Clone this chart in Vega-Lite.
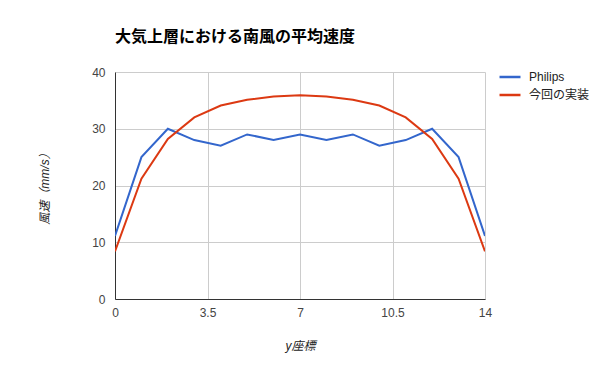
{
  "$schema": "https://vega.github.io/schema/vega-lite/v6.json",
  "autosize": "none",
  "width": 370,
  "height": 227,
  "padding": {"left": 115, "top": 72, "right": 115, "bottom": 72},
  "background": "white",
  "title": {
    "text": "大気上層における南風の平均速度",
    "anchor": "start",
    "frame": "group",
    "font": "Liberation Sans, Noto Sans CJK JP",
    "fontSize": 16,
    "fontWeight": "bold",
    "color": "#000000",
    "offset": 20
  },
  "data": {
    "values": [
      {"x": 0, "v": 11.1, "s": "Philips"},
      {"x": 1, "v": 25, "s": "Philips"},
      {"x": 2, "v": 30, "s": "Philips"},
      {"x": 3, "v": 28, "s": "Philips"},
      {"x": 4, "v": 27, "s": "Philips"},
      {"x": 5, "v": 29, "s": "Philips"},
      {"x": 6, "v": 28, "s": "Philips"},
      {"x": 7, "v": 29, "s": "Philips"},
      {"x": 8, "v": 28, "s": "Philips"},
      {"x": 9, "v": 29, "s": "Philips"},
      {"x": 10, "v": 27, "s": "Philips"},
      {"x": 11, "v": 28, "s": "Philips"},
      {"x": 12, "v": 30, "s": "Philips"},
      {"x": 13, "v": 25, "s": "Philips"},
      {"x": 14, "v": 11.1, "s": "Philips"},
      {"x": 0, "v": 8.4, "s": "今回の実装"},
      {"x": 1, "v": 21.2, "s": "今回の実装"},
      {"x": 2, "v": 28.2, "s": "今回の実装"},
      {"x": 3, "v": 32, "s": "今回の実装"},
      {"x": 4, "v": 34.1, "s": "今回の実装"},
      {"x": 5, "v": 35.1, "s": "今回の実装"},
      {"x": 6, "v": 35.7, "s": "今回の実装"},
      {"x": 7, "v": 35.9, "s": "今回の実装"},
      {"x": 8, "v": 35.7, "s": "今回の実装"},
      {"x": 9, "v": 35.1, "s": "今回の実装"},
      {"x": 10, "v": 34.1, "s": "今回の実装"},
      {"x": 11, "v": 32, "s": "今回の実装"},
      {"x": 12, "v": 28.2, "s": "今回の実装"},
      {"x": 13, "v": 21.2, "s": "今回の実装"},
      {"x": 14, "v": 8.4, "s": "今回の実装"}
    ]
  },
  "mark": {"type": "line", "strokeWidth": 2, "clip": true},
  "encoding": {
    "x": {
      "field": "x",
      "type": "quantitative",
      "scale": {"domain": [0, 14], "nice": false, "zero": false},
      "axis": {
        "values": [0, 3.5, 7, 10.5, 14],
        "format": ".1~f",
        "title": "y座標",
        "titleFontStyle": "italic",
        "titleFontWeight": "normal",
        "titleFont": "Liberation Sans, Noto Sans CJK JP",
        "titleFontSize": 12,
        "titleColor": "#222222",
        "titlePadding": 22,
        "labelFont": "Liberation Sans",
        "labelFontSize": 12,
        "labelColor": "#444444",
        "labelPadding": 8,
        "labelFlush": false,
        "labelOverlap": false,
        "ticks": false,
        "domainColor": "#333333",
        "domainWidth": 1,
        "gridColor": "#cccccc",
        "gridOpacity": 1
      }
    },
    "y": {
      "field": "v",
      "type": "quantitative",
      "scale": {"domain": [0, 40], "nice": false},
      "axis": {
        "values": [0, 10, 20, 30, 40],
        "title": "風速（mm/s）",
        "titleFontStyle": "italic",
        "titleFontWeight": "normal",
        "titleFont": "Liberation Sans, Noto Sans CJK JP",
        "titleFontSize": 12,
        "titleColor": "#222222",
        "titlePadding": 40,
        "labelFont": "Liberation Sans",
        "labelFontSize": 12,
        "labelColor": "#444444",
        "labelPadding": 10,
        "ticks": false,
        "domainColor": "#333333",
        "domainWidth": 1,
        "gridColor": "#cccccc",
        "gridOpacity": 1
      }
    },
    "color": {
      "field": "s",
      "type": "nominal",
      "scale": {"domain": ["Philips", "今回の実装"], "range": ["#3366cc", "#dc3912"]},
      "legend": {
        "title": null,
        "orient": "none",
        "legendX": 383,
        "legendY": -7,
        "symbolType": "stroke",
        "symbolSize": 440,
        "symbolStrokeWidth": 2.5,
        "labelFont": "Liberation Sans, Noto Sans CJK JP",
        "labelFontSize": 12,
        "labelColor": "#222222",
        "rowPadding": 0,
        "labelOffset": 7
      }
    }
  },
  "config": {"view": {"stroke": null}}
}
